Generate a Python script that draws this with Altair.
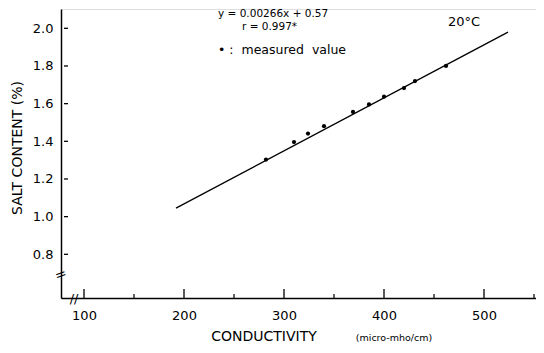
import altair as alt
import pandas as pd

# measured values (conductivity, salt content)
meas_x = [282, 310, 324, 340, 369, 385, 400, 420, 431, 462]
meas_y = [1.303, 1.396, 1.441, 1.480, 1.556, 1.596, 1.637, 1.683, 1.720, 1.800]
# regression line end points
line_x = [192, 524]
line_y = [1.045, 1.980]
# ticks
x_major = [100, 200, 300, 400, 500]
x_minor = [150, 250, 350, 450, 550]
y_ticks = [0.8, 1.0, 1.2, 1.4, 1.6, 1.8, 2.0]

FONT = "DejaVu Sans"
xs = alt.Scale(domain=[77, 552], nice=False, zero=False)
ys = alt.Scale(domain=[0.568, 2.1025], nice=False, zero=False)

pts = pd.DataFrame({"x": meas_x, "y": meas_y})
ln = pd.DataFrame({"x": line_x, "y": line_y})

base_line = alt.Chart(ln).mark_line(color="black", strokeWidth=1.3).encode(
    x=alt.X("x:Q", scale=xs, axis=alt.Axis(values=x_major, ticks=False, grid=False, title=None,
                                             labelPadding=11, labelFontSize=13, labelFont=FONT,
                                             labelColor="black", domainColor="black", domainWidth=1.5,
                                             labelFlush=False)),
    y=alt.Y("y:Q", scale=ys, axis=alt.Axis(values=y_ticks, ticks=False, grid=False, title=None,
                                             format=".1f", labelPadding=8, labelFontSize=13,
                                             labelFont=FONT, labelColor="black", domainColor="black",
                                             domainWidth=1.5)),
)

points = alt.Chart(pts).mark_circle(color="black", size=18, opacity=1).encode(
    x=alt.X("x:Q", scale=xs), y=alt.Y("y:Q", scale=ys)
)

yt = alt.Chart(pd.DataFrame({"v": y_ticks})).mark_rule(color="black", strokeWidth=1.3).encode(
    y=alt.Y("v:Q", scale=ys), x=alt.value(3), x2=alt.value(7)
)
xmaj = alt.Chart(pd.DataFrame({"v": x_major})).mark_rule(color="black", strokeWidth=1.3).encode(
    x=alt.X("v:Q", scale=xs), y=alt.value(280), y2=alt.value(289)
)
xmin = alt.Chart(pd.DataFrame({"v": x_minor})).mark_rule(color="black", strokeWidth=1.2).encode(
    x=alt.X("v:Q", scale=xs), y=alt.value(285), y2=alt.value(289)
)

def label(text, x, y, size, align="left", angle=0, weight="normal"):
    return alt.Chart(pd.DataFrame({"t": [text]})).mark_text(
        font=FONT, fontSize=size, align=align, baseline="middle", color="black",
        angle=angle, fontWeight=weight
    ).encode(x=alt.value(x), y=alt.value(y), text="t:N")

NB = "\u00a0"
texts = [
    label("SALT CONTENT (%)", -43, 139, 14, align="center", angle=270),
    label("CONDUCTIVITY", 203, 328, 14, align="center"),
    label("(micro-mho/cm)", 333, 329, 9.5, align="center"),
    label("y = 0.00266x + 0.57", 157, 5, 10.5),
    label("r = 0.997*", 181, 17.5, 10.5),
    label("\u2022 :" + NB * 2 + "measured" + NB * 2 + "value", 157, 41, 12.5),
    label("20\u00b0C", 403, 13, 13, align="center"),
    label("//", 13, 290, 13, align="center"),
    label("=", 0, 266, 14, align="center", angle=340),
]

chart = alt.layer(base_line, points, yt, xmaj, xmin, *texts).properties(
    width=475, height=289,
    padding={"left": 53, "top": 1, "right": 0, "bottom": 47},
    autosize="none",
).configure_view(stroke=None).configure(background="white")

chart.save("out.html", embed_options={"renderer": "svg", "actions": False})
